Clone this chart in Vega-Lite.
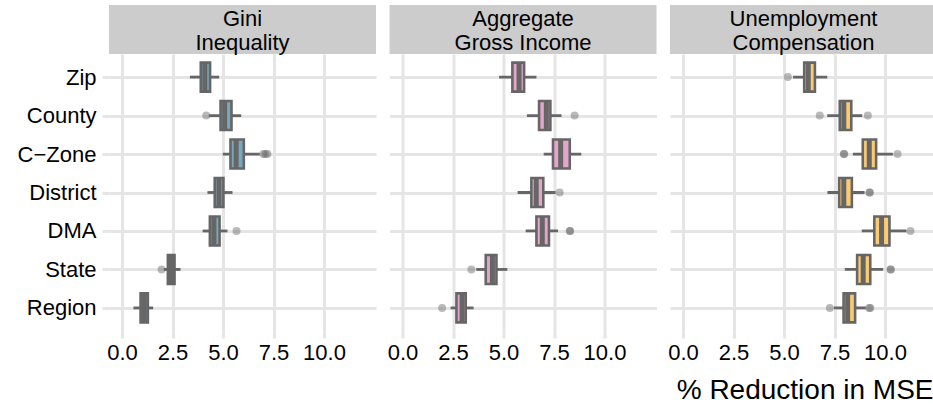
{
  "$schema": "https://vega.github.io/schema/vega-lite/v6.json",
  "padding": {"left": 17, "top": 5, "right": 0, "bottom": 0},
  "background": "white",
  "config": {
    "font": "Liberation Sans",
    "view": {"stroke": null},
    "axis": {
      "domain": false,
      "grid": true,
      "gridColor": "#E5E5E5",
      "gridWidth": 3,
      "tickColor": "#E5E5E5",
      "tickWidth": 3,
      "tickSize": 7,
      "labelFont": "Liberation Sans",
      "labelFontSize": 22,
      "labelColor": "#000000",
      "titleFont": "Liberation Sans",
      "titleFontSize": 28,
      "titleFontWeight": "normal",
      "titleColor": "#000000"
    }
  },
  "datasets": {
    "boxes": [
      {"panel": "Gini", "geo": "Zip", "lo": 3.36, "q1": 3.90, "med": 4.10, "q3": 4.36, "hi": 4.81},
      {"panel": "Gini", "geo": "County", "lo": 4.30, "q1": 4.88, "med": 5.08, "q3": 5.42, "hi": 5.90},
      {"panel": "Gini", "geo": "C−Zone", "lo": 4.99, "q1": 5.37, "med": 5.65, "q3": 6.03, "hi": 6.82},
      {"panel": "Gini", "geo": "District", "lo": 4.23, "q1": 4.59, "med": 4.80, "q3": 5.02, "hi": 5.47},
      {"panel": "Gini", "geo": "DMA", "lo": 3.99, "q1": 4.35, "med": 4.55, "q3": 4.83, "hi": 5.22},
      {"panel": "Gini", "geo": "State", "lo": 2.07, "q1": 2.27, "med": 2.45, "q3": 2.60, "hi": 2.90},
      {"panel": "Gini", "geo": "Region", "lo": 0.57, "q1": 0.92, "med": 1.10, "q3": 1.28, "hi": 1.54},
      {"panel": "Agg", "geo": "Zip", "lo": 4.78, "q1": 5.44, "med": 5.77, "q3": 6.02, "hi": 6.63},
      {"panel": "Agg", "geo": "County", "lo": 6.16, "q1": 6.76, "med": 7.12, "q3": 7.32, "hi": 7.87},
      {"panel": "Agg", "geo": "C−Zone", "lo": 6.99, "q1": 7.45, "med": 7.83, "q3": 8.28, "hi": 8.85},
      {"panel": "Agg", "geo": "District", "lo": 5.70, "q1": 6.38, "med": 6.62, "q3": 6.97, "hi": 7.58},
      {"panel": "Agg", "geo": "DMA", "lo": 6.10, "q1": 6.63, "med": 6.92, "q3": 7.25, "hi": 7.70},
      {"panel": "Agg", "geo": "State", "lo": 3.65, "q1": 4.12, "med": 4.45, "q3": 4.65, "hi": 5.19},
      {"panel": "Agg", "geo": "Region", "lo": 2.38, "q1": 2.67, "med": 2.95, "q3": 3.13, "hi": 3.52},
      {"panel": "Unemp", "geo": "Zip", "lo": 5.45, "q1": 6.00, "med": 6.20, "q3": 6.53, "hi": 7.14},
      {"panel": "Unemp", "geo": "County", "lo": 7.14, "q1": 7.76, "med": 7.96, "q3": 8.33, "hi": 8.87},
      {"panel": "Unemp", "geo": "C−Zone", "lo": 8.41, "q1": 8.90, "med": 9.22, "q3": 9.56, "hi": 10.39},
      {"panel": "Unemp", "geo": "District", "lo": 7.15, "q1": 7.73, "med": 7.96, "q3": 8.36, "hi": 8.99},
      {"panel": "Unemp", "geo": "DMA", "lo": 8.85, "q1": 9.47, "med": 9.83, "q3": 10.22, "hi": 11.06},
      {"panel": "Unemp", "geo": "State", "lo": 8.01, "q1": 8.62, "med": 8.92, "q3": 9.27, "hi": 9.91},
      {"panel": "Unemp", "geo": "Region", "lo": 7.47, "q1": 7.95, "med": 8.15, "q3": 8.52, "hi": 9.05}
    ],
    "outliers": [
      {"panel": "Gini", "geo": "County", "v": 4.17},
      {"panel": "Gini", "geo": "C−Zone", "v": 7.0},
      {"panel": "Gini", "geo": "C−Zone", "v": 7.1},
      {"panel": "Gini", "geo": "C−Zone", "v": 7.2},
      {"panel": "Gini", "geo": "DMA", "v": 5.67},
      {"panel": "Gini", "geo": "State", "v": 1.96},
      {"panel": "Agg", "geo": "County", "v": 8.52},
      {"panel": "Agg", "geo": "District", "v": 7.78},
      {"panel": "Agg", "geo": "DMA", "v": 8.28},
      {"panel": "Agg", "geo": "DMA", "v": 8.30},
      {"panel": "Agg", "geo": "State", "v": 3.41},
      {"panel": "Agg", "geo": "Region", "v": 1.96},
      {"panel": "Unemp", "geo": "Zip", "v": 5.19},
      {"panel": "Unemp", "geo": "County", "v": 6.77},
      {"panel": "Unemp", "geo": "County", "v": 9.15},
      {"panel": "Unemp", "geo": "C−Zone", "v": 7.96},
      {"panel": "Unemp", "geo": "C−Zone", "v": 7.98},
      {"panel": "Unemp", "geo": "C−Zone", "v": 10.62},
      {"panel": "Unemp", "geo": "District", "v": 9.23},
      {"panel": "Unemp", "geo": "District", "v": 9.25},
      {"panel": "Unemp", "geo": "DMA", "v": 11.26},
      {"panel": "Unemp", "geo": "State", "v": 10.27},
      {"panel": "Unemp", "geo": "State", "v": 10.29},
      {"panel": "Unemp", "geo": "Region", "v": 7.27},
      {"panel": "Unemp", "geo": "Region", "v": 9.22},
      {"panel": "Unemp", "geo": "Region", "v": 9.27}
    ]
  },
  "columns": 3,
  "spacing": {"row": 0, "column": 13.5},
  "bounds": "flush",
  "concat": [
    {
      "width": 267, "height": 49,
      "view": {"fill": "#CCCCCC", "stroke": null},
      "data": {"values": [{"t": "Gini\nInequality"}]},
      "mark": {"type": "text", "lineBreak": "\n", "fontSize": 22, "lineHeight": 24, "color": "#000000", "font": "Liberation Sans", "baseline": "middle", "dy": -11},
      "encoding": {"text": {"field": "t", "type": "nominal"}}
    },
    {
      "width": 267, "height": 49,
      "view": {"fill": "#CCCCCC", "stroke": null},
      "data": {"values": [{"t": "Aggregate\nGross Income"}]},
      "mark": {"type": "text", "lineBreak": "\n", "fontSize": 22, "lineHeight": 24, "color": "#000000", "font": "Liberation Sans", "baseline": "middle", "dy": -11},
      "encoding": {"text": {"field": "t", "type": "nominal"}}
    },
    {
      "width": 263, "height": 49,
      "view": {"fill": "#CCCCCC", "stroke": null},
      "data": {"values": [{"t": "Unemployment\nCompensation"}]},
      "mark": {"type": "text", "lineBreak": "\n", "fontSize": 22, "lineHeight": 24, "color": "#000000", "font": "Liberation Sans", "baseline": "middle", "dy": -11, "dx": 2},
      "encoding": {"text": {"field": "t", "type": "nominal"}}
    },
    {
      "width": 267, "height": 277,
      "data": {"name": "boxes"},
      "transform": [{"filter": "datum.panel === 'Gini'"}],
      "encoding": {
        "y": {"field": "geo", "type": "nominal", "title": null,
          "scale": {"type": "point", "padding": 0.6, "domain": ["Zip", "County", "C−Zone", "District", "DMA", "State", "Region"]},
          "axis": {"labelPadding": 6, "ticks": true}}
      },
      "layer": [
        {
          "data": {"name": "outliers"},
          "transform": [{"filter": "datum.panel === 'Gini'"}],
          "mark": {"type": "circle", "size": 64, "color": "#666666", "opacity": 0.45},
          "encoding": {"x": {"field": "v", "type": "quantitative", "title": null, "scale": {"domain": [-0.644, 12.574], "nice": false, "zero": false}, "axis": {"values": [0, 2.5, 5, 7.5, 10], "format": ".1f", "labelPadding": 4}}}
        },
        {
          "mark": {"type": "rule", "color": "#666666", "strokeWidth": 2.8},
          "encoding": {"x": {"field": "lo", "type": "quantitative", "title": null, "scale": {"domain": [-0.644, 12.574], "nice": false, "zero": false}, "axis": {"values": [0, 2.5, 5, 7.5, 10], "format": ".1f", "labelPadding": 4}}, "x2": {"field": "hi"}}
        },
        {
          "mark": {"type": "bar", "orient": "horizontal", "size": 29, "fill": "#78A8BE", "stroke": "#666666", "strokeWidth": 2.6},
          "encoding": {"x": {"field": "q1", "type": "quantitative", "title": null, "scale": {"domain": [-0.644, 12.574], "nice": false, "zero": false}, "axis": {"values": [0, 2.5, 5, 7.5, 10], "format": ".1f", "labelPadding": 4}}, "x2": {"field": "q3"}}
        },
        {
          "mark": {"type": "tick", "orient": "vertical", "size": 29, "thickness": 5, "color": "#666666", "opacity": 1},
          "encoding": {"x": {"field": "med", "type": "quantitative", "title": null, "scale": {"domain": [-0.644, 12.574], "nice": false, "zero": false}, "axis": {"values": [0, 2.5, 5, 7.5, 10], "format": ".1f", "labelPadding": 4}}}
        }
      ]
    },
    {
      "width": 267, "height": 277,
      "data": {"name": "boxes"},
      "transform": [{"filter": "datum.panel === 'Agg'"}],
      "encoding": {
        "y": {"field": "geo", "type": "nominal", "title": null,
          "scale": {"type": "point", "padding": 0.6, "domain": ["Zip", "County", "C−Zone", "District", "DMA", "State", "Region"]},
          "axis": {"labels": false, "ticks": false}}
      },
      "layer": [
        {
          "data": {"name": "outliers"},
          "transform": [{"filter": "datum.panel === 'Agg'"}],
          "mark": {"type": "circle", "size": 64, "color": "#666666", "opacity": 0.45},
          "encoding": {"x": {"field": "v", "type": "quantitative", "title": null, "scale": {"domain": [-0.644, 12.574], "nice": false, "zero": false}, "axis": {"values": [0, 2.5, 5, 7.5, 10], "format": ".1f", "labelPadding": 4}}}
        },
        {
          "mark": {"type": "rule", "color": "#666666", "strokeWidth": 2.8},
          "encoding": {"x": {"field": "lo", "type": "quantitative", "title": null, "scale": {"domain": [-0.644, 12.574], "nice": false, "zero": false}, "axis": {"values": [0, 2.5, 5, 7.5, 10], "format": ".1f", "labelPadding": 4}}, "x2": {"field": "hi"}}
        },
        {
          "mark": {"type": "bar", "orient": "horizontal", "size": 29, "fill": "#E4A5CB", "stroke": "#666666", "strokeWidth": 2.6},
          "encoding": {"x": {"field": "q1", "type": "quantitative", "title": null, "scale": {"domain": [-0.644, 12.574], "nice": false, "zero": false}, "axis": {"values": [0, 2.5, 5, 7.5, 10], "format": ".1f", "labelPadding": 4}}, "x2": {"field": "q3"}}
        },
        {
          "mark": {"type": "tick", "orient": "vertical", "size": 29, "thickness": 5, "color": "#666666", "opacity": 1},
          "encoding": {"x": {"field": "med", "type": "quantitative", "title": null, "scale": {"domain": [-0.644, 12.574], "nice": false, "zero": false}, "axis": {"values": [0, 2.5, 5, 7.5, 10], "format": ".1f", "labelPadding": 4}}}
        }
      ]
    },
    {
      "width": 263, "height": 277,
      "data": {"name": "boxes"},
      "transform": [{"filter": "datum.panel === 'Unemp'"}],
      "encoding": {
        "y": {"field": "geo", "type": "nominal", "title": null,
          "scale": {"type": "point", "padding": 0.6, "domain": ["Zip", "County", "C−Zone", "District", "DMA", "State", "Region"]},
          "axis": {"labels": false, "ticks": false}}
      },
      "layer": [
        {
          "data": {"name": "outliers"},
          "transform": [{"filter": "datum.panel === 'Unemp'"}],
          "mark": {"type": "circle", "size": 64, "color": "#666666", "opacity": 0.45},
          "encoding": {"x": {"field": "v", "type": "quantitative", "title": "% Reduction in MSE", "scale": {"domain": [-0.644, 12.376], "nice": false, "zero": false}, "axis": {"values": [0, 2.5, 5, 7.5, 10], "format": ".1f", "labelPadding": 4, "titleAnchor": "end", "titlePadding": 13}}}
        },
        {
          "mark": {"type": "rule", "color": "#666666", "strokeWidth": 2.8},
          "encoding": {"x": {"field": "lo", "type": "quantitative", "title": "% Reduction in MSE", "scale": {"domain": [-0.644, 12.376], "nice": false, "zero": false}, "axis": {"values": [0, 2.5, 5, 7.5, 10], "format": ".1f", "labelPadding": 4, "titleAnchor": "end", "titlePadding": 13}}, "x2": {"field": "hi"}}
        },
        {
          "mark": {"type": "bar", "orient": "horizontal", "size": 29, "fill": "#FBCB72", "stroke": "#666666", "strokeWidth": 2.6},
          "encoding": {"x": {"field": "q1", "type": "quantitative", "title": "% Reduction in MSE", "scale": {"domain": [-0.644, 12.376], "nice": false, "zero": false}, "axis": {"values": [0, 2.5, 5, 7.5, 10], "format": ".1f", "labelPadding": 4, "titleAnchor": "end", "titlePadding": 13}}, "x2": {"field": "q3"}}
        },
        {
          "mark": {"type": "tick", "orient": "vertical", "size": 29, "thickness": 5, "color": "#666666", "opacity": 1},
          "encoding": {"x": {"field": "med", "type": "quantitative", "title": "% Reduction in MSE", "scale": {"domain": [-0.644, 12.376], "nice": false, "zero": false}, "axis": {"values": [0, 2.5, 5, 7.5, 10], "format": ".1f", "labelPadding": 4, "titleAnchor": "end", "titlePadding": 13}}}
        }
      ]
    }
  ]
}
